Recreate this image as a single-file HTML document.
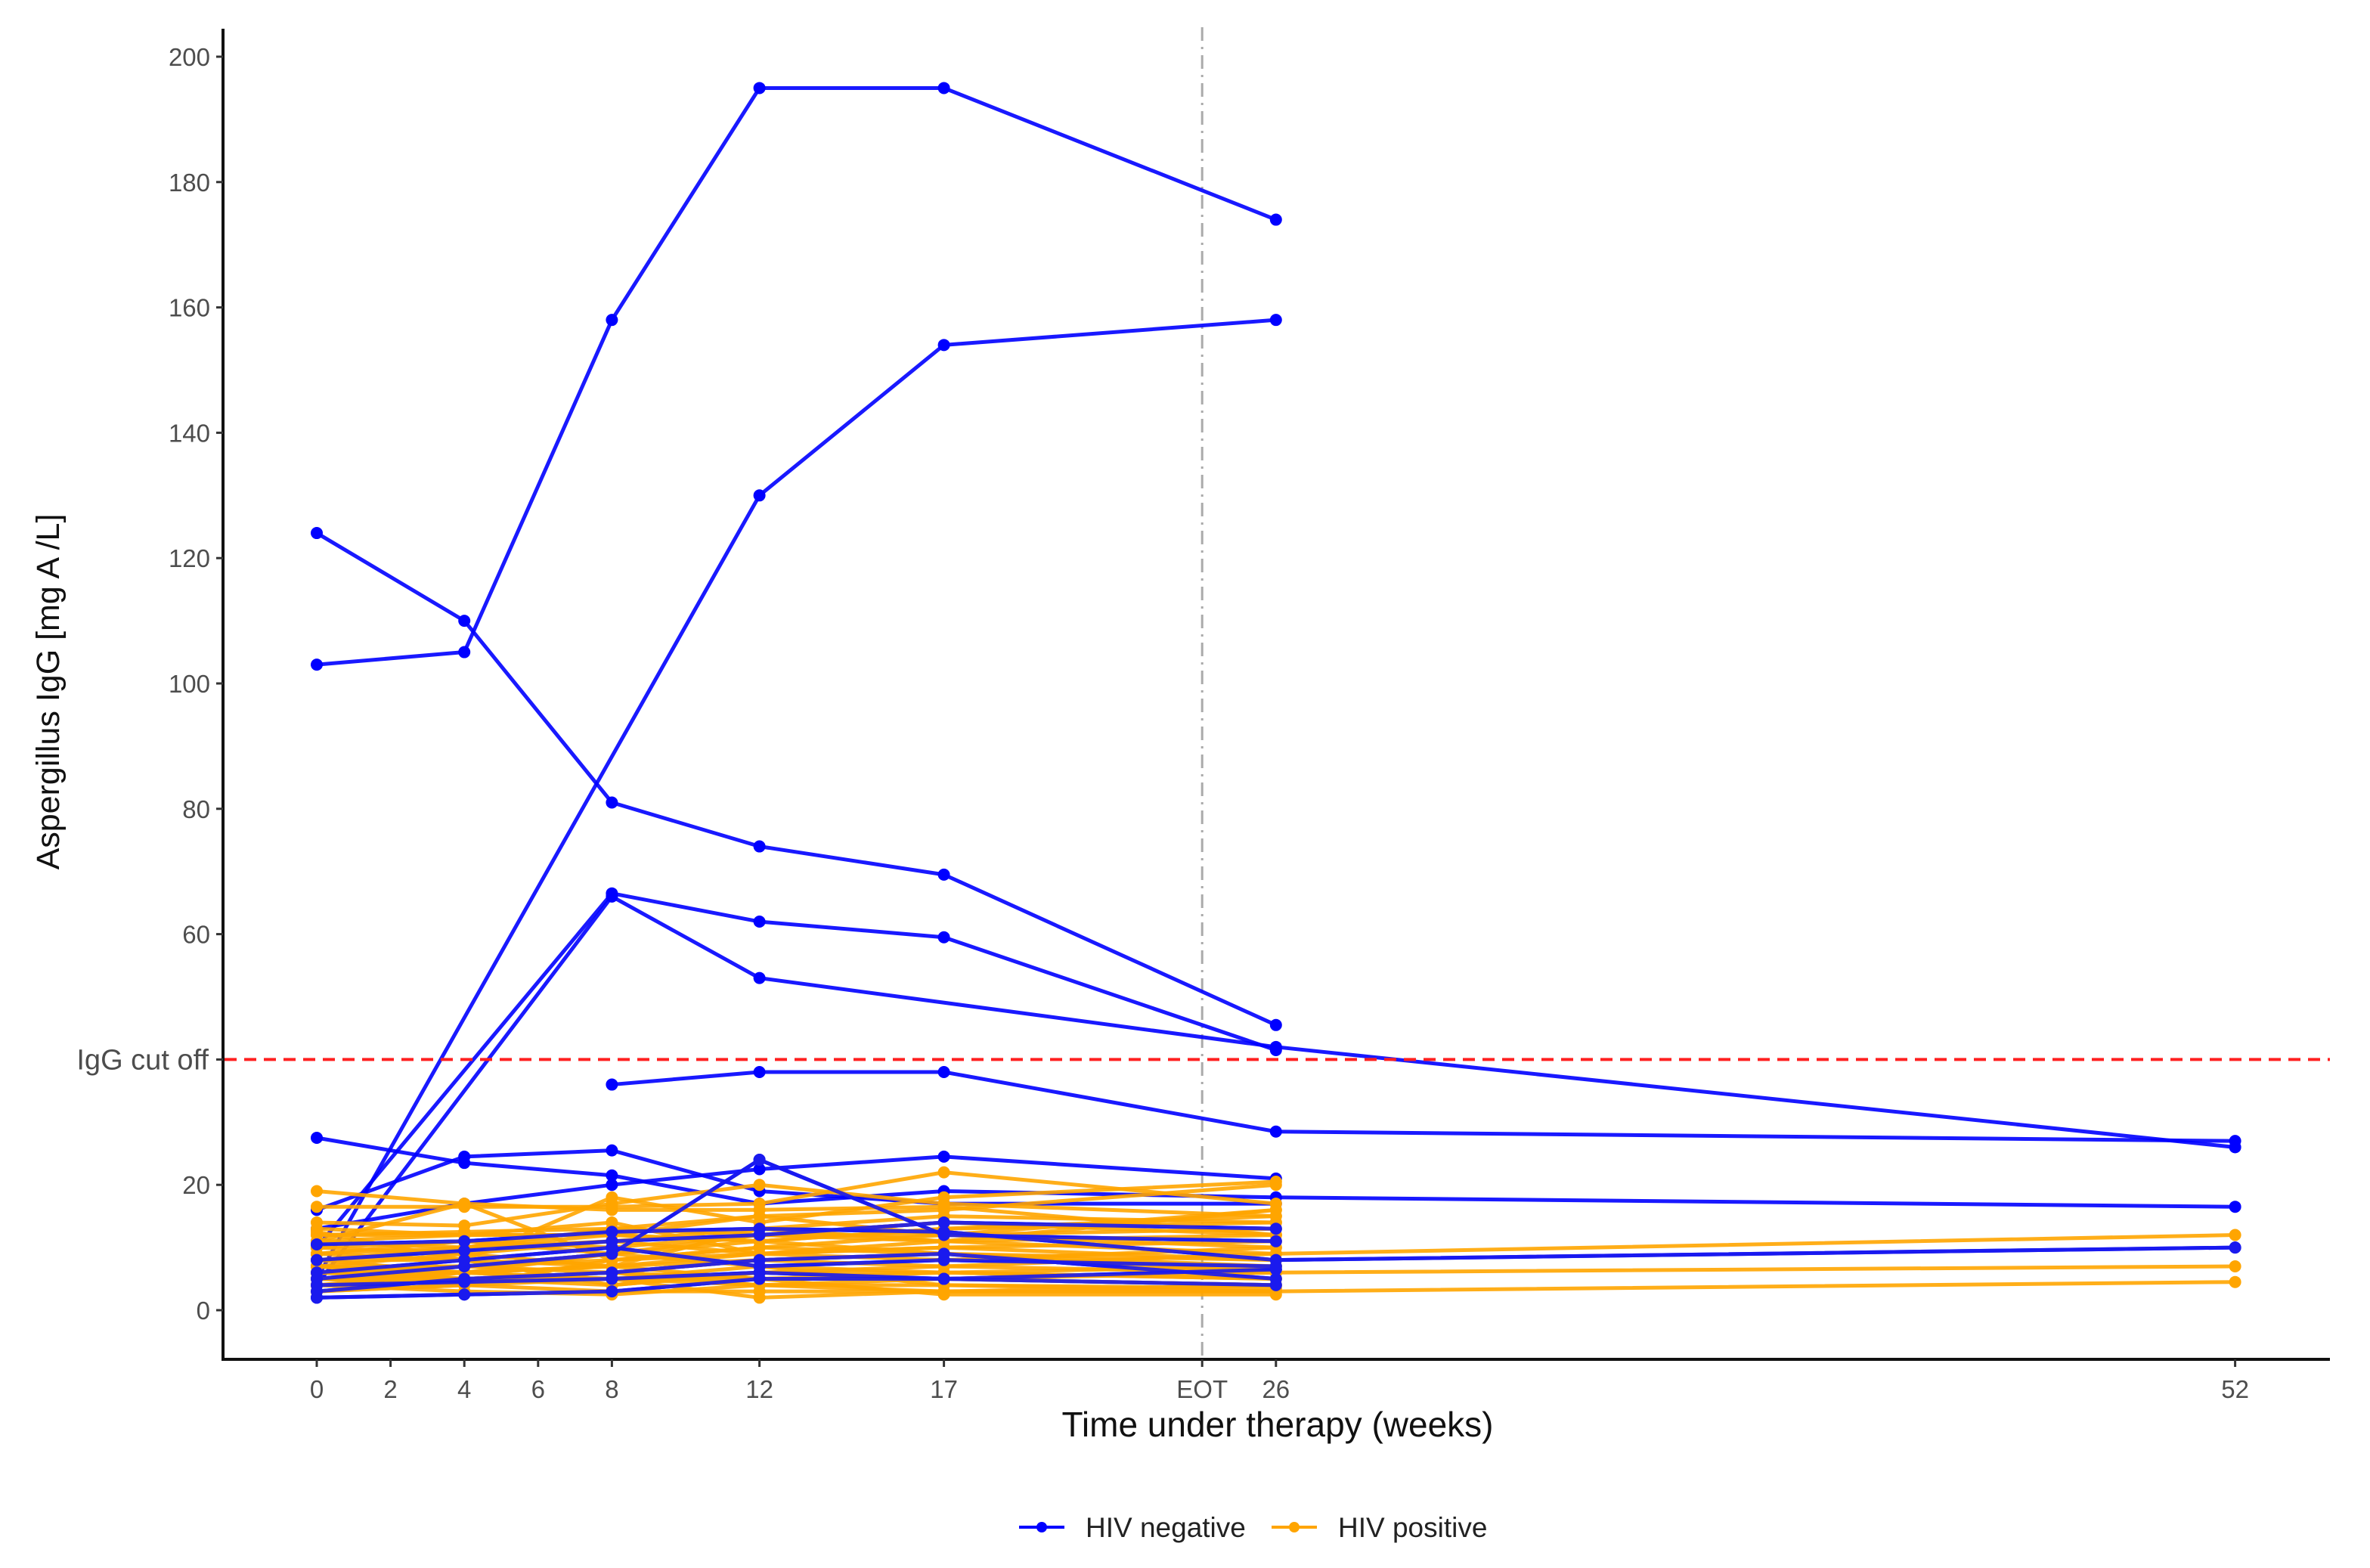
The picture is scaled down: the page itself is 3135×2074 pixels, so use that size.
<!DOCTYPE html>
<html><head><meta charset="utf-8">
<style>
html,body{margin:0;padding:0;background:#fff;}
svg{display:block;}
text{font-family:"Liberation Sans",Arial,sans-serif;}
</style></head>
<body>
<svg id="chart" width="3135" height="2074" viewBox="0 0 3135 2074" xmlns="http://www.w3.org/2000/svg">
<rect width="3135" height="2074" fill="#fff"/>
<g id="grid"></g>
<g id="series"></g>
<g id="axes"></g>
</svg>
<script>
const weeks = [0, 4, 8, 12, 17, 26, 52];
const xTickValues = [0, 2, 4, 6, 8, 12, 17, 24, 26, 52];
const xTickLabels = ["0", "2", "4", "6", "8", "12", "17", "EOT", "26", "52"];
const yTickValues = [0, 20, 40, 60, 80, 100, 120, 140, 160, 180, 200];
const yTickLabels = ["0", "20", "", "60", "80", "100", "120", "140", "160", "180", "200"];
const cutoffValue = 40;
const eotWeek = 24;
const N = null;
// HIV negative series (values at weeks 0,4,8,12,17,26,52)
const hivNeg = [
  [103, 105, 158, 195, 195, 174, N],
  [124, 110, 81, 74, 69.5, 45.5, N],
  [5, N, N, 130, 154, 158, N],
  [10, N, 66.5, 62, 59.5, 41.5, N],
  [4, N, 66, 53, N, 42, 26],
  [N, N, 36, 38, 38, 28.5, 27],
  [27.5, 23.5, 21.5, 17, 19, 18, 16.5],
  [16, 24.5, 25.5, 19, 17, 17, N],
  [13, 17, 20, 22.5, 24.5, 21, N],
  [2, 2.5, 3, 5, 5, 4, N],
  [10.5, 11, 12.5, 13, 12.5, 8, 10],
  [5, 7, 9, 24, 12, 11, N],
  [6, 8, 10, 7, 8, 7, N],
  [4, 4.5, 5, 6, 5, 6.5, N],
  [8, 9.5, 11, 12, 14, 13, N],
  [3, 5, 6, 8, 9, 5, N]
];
// HIV positive series
const hivPos = [
  [19, 17, 16, 16, 16.5, 12, N],
  [16.5, 16.5, 16.5, 17, 22, 17, N],
  [12, 12, 12, 15, 16, 20, N],
  [14, 13.5, 17, 20, 17, 15, N],
  [11, 12, 12, 11, 13, 14, N],
  [12.5, 8, 18, 14, 18, 20.5, N],
  [9, 11, 10, 12, 11, 9, 12],
  [7, 6, 7, 8, 9, 6, 7],
  [5, 4, 3, 3, 3, 3, 4.5],
  [6, 7, 6, 5, 5, 4, N],
  [8, 6, 5, 2, 3, 3, N],
  [4, 5, 4, 6, 6, 7, N],
  [3, 4, 8, 10, 9, 8, N],
  [10, 9, 11, 9, 10, 11, N],
  [7, 9, 7, 13, 15, 14, N],
  [5, 6, 9, 7, 6, 5, N],
  [9, 10, 13, 15, 12, 16, N],
  [6, 5, 6, 4, 5, 6, N],
  [11, 17, 8, 10, 12, 10, N],
  [4, 3, 2.5, 4, 4, 3.5, N],
  [13, 12, 14, 9, 11, 12, N],
  [8, 8, 4, 6, 7, 9, N],
  [7, 7, 9, 11, 13, 15, N],
  [5, 5, 5, 5, 2.5, 2.5, N],
  [12, 12.5, 13, 12, 12, 13, N],
  [6, 7, 8, 9, 8, 10, N],
  [9, 8, 7, 9, 10, 8, N],
  [3, 4, 5, 4, 3, 4, N],
  [10, 11, 9, 12, 14, 12, N],
  [7, 5, 6, 8, 7, 6, N],
  [4, 6, 7, 5, 6, 5, N],
  [8, 10, 12, 11, 9, 7, N],
  [6, 6, 5, 7, 4, 3, N],
  [11, 10, 11, 13, 11, 16, N]
];

const SVGNS = "http://www.w3.org/2000/svg";
const X0 = 419, XW = 48.8;   // px per week
const Y0 = 1733, YU = 8.29;   // px per unit
function xs(w){ return X0 + w * XW; }
function ys(v){ return Y0 - v * YU; }
function mk(tag, attrs, parent){
  const e = document.createElementNS(SVGNS, tag);
  for (const k in attrs) e.setAttribute(k, attrs[k]);
  parent.appendChild(e);
  return e;
}
const gAxes = document.getElementById('axes');
const gSer = document.getElementById('series');
const gGrid = document.getElementById('grid');

const eot = mk('line', {x1: xs(eotWeek), x2: xs(eotWeek), y1: 36, y2: 1798, stroke: '#aaaaaa', 'stroke-width': 3, 'stroke-dasharray': '18 8 3 8'}, gGrid);



function drawSeries(list, color, name){
  list.forEach((s, i) => {
    const g = mk('g', {}, gSer);
    
    
    const pts = [];
    s.forEach((v, j) => { if (v !== null) pts.push([xs(weeks[j]), ys(v)]); });
    const pl = mk('polyline', {points: pts.map(p => p[0] + ',' + p[1]).join(' '), fill: 'none', stroke: color, 'stroke-width': 5, 'stroke-linejoin': 'round', opacity: 0.9}, g);
    
    
    pts.forEach(p => {
      const c = mk('circle', {cx: p[0], cy: p[1], r: 8, fill: color}, g);
      
      
    });
  });
}
drawSeries(hivNeg, '#0000ff', 'hiv-negative');
drawSeries(hivPos, '#ffa500', 'hiv-positive');
drawSeries(hivNeg.slice(9), '#1a1aee', 'hiv-negative-overlay');

const cut = mk('line', {x1: 297, x2: 3082, y1: ys(cutoffValue), y2: ys(cutoffValue), stroke: '#ff2020', 'stroke-width': 4, 'stroke-dasharray': '16 10'}, gAxes);


const cutLbl = mk('text', {x: 276, y: ys(cutoffValue) + 13, 'text-anchor': 'end', 'font-size': 38, fill: '#4d4d4d'}, gAxes);
cutLbl.textContent = 'IgG cut off';



const ya = mk('line', {x1: 295, x2: 295, y1: 38, y2: 1800, stroke: '#111', 'stroke-width': 4}, gAxes);


const xa = mk('line', {x1: 293, x2: 3082, y1: 1798, y2: 1798, stroke: '#111', 'stroke-width': 4}, gAxes);



yTickValues.forEach((v, i) => {
  const t = mk('line', {x1: 286, x2: 295, y1: ys(v), y2: ys(v), stroke: '#333', 'stroke-width': 3}, gAxes);
  
  
  if (yTickLabels[i]) {
    const l = mk('text', {x: 278, y: ys(v) + 12, 'text-anchor': 'end', 'font-size': 33, fill: '#4d4d4d'}, gAxes);
    l.textContent = yTickLabels[i];
    
    
  }
});
xTickValues.forEach((v, i) => {
  const t = mk('line', {x1: xs(v), x2: xs(v), y1: 1798, y2: 1808, stroke: '#333', 'stroke-width': 3}, gAxes);
  
  
  const l = mk('text', {x: xs(v), y: 1849, 'text-anchor': 'middle', 'font-size': 33, fill: '#4d4d4d'}, gAxes);
  l.textContent = xTickLabels[i];
  
  
});

const xt = mk('text', {x: 1690, y: 1900, 'text-anchor': 'middle', 'font-size': 46, fill: '#111'}, gAxes);
xt.textContent = 'Time under therapy (weeks)';


const yt = mk('text', {x: 0, y: 0, 'text-anchor': 'middle', 'font-size': 43, fill: '#111', transform: 'translate(78,915) rotate(-90)'}, gAxes);
yt.textContent = 'Aspergillus IgG [mg A /L]';



function legendEntry(x, color, label, name){
  const g = mk('g', {}, gAxes);
  
  
  mk('line', {x1: x, x2: x + 60, y1: 2020, y2: 2020, stroke: color, 'stroke-width': 4}, g);
  mk('circle', {cx: x + 30, cy: 2020, r: 7, fill: color}, g);
  const t = mk('text', {x: x + 88, y: 2033, 'font-size': 37, fill: '#222'}, g);
  t.textContent = label;
}
legendEntry(1348, '#0000ff', 'HIV negative', 'legend-entry-hiv-negative');
legendEntry(1682, '#ffa500', 'HIV positive', 'legend-entry-hiv-positive');
</script>
</body></html>
